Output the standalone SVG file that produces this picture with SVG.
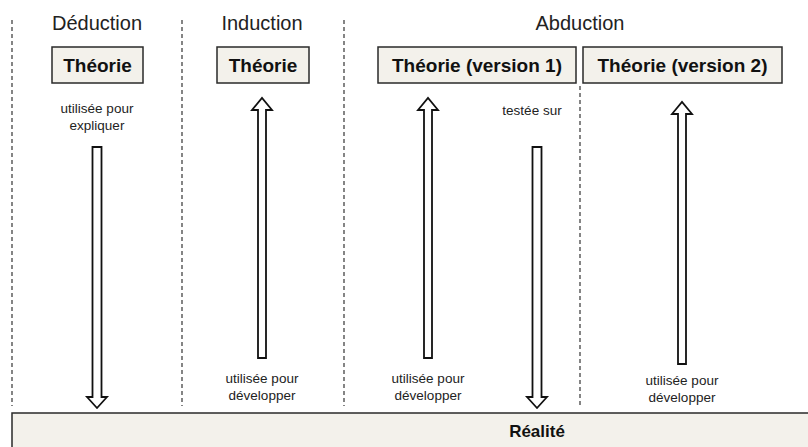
<svg xmlns="http://www.w3.org/2000/svg" width="808" height="447" viewBox="0 0 808 447">
<style>
.sep{stroke:#444;stroke-width:1.3;stroke-dasharray:4,3;fill:none}
.box{fill:#f3f1eb;stroke:#2a2a2a;stroke-width:1.5}
.title{font-family:"Liberation Sans",Arial,sans-serif;font-size:20px;fill:#222;text-anchor:middle}
.bold{font-family:"Liberation Sans",Arial,sans-serif;font-size:19px;font-weight:bold;fill:#111;text-anchor:middle}
.lbl{font-family:"Liberation Sans",Arial,sans-serif;font-size:13.5px;fill:#222;text-anchor:middle}
.arr{fill:#fff;stroke:#111;stroke-width:1.8;stroke-linejoin:miter}
</style>
<rect width="808" height="447" fill="#fff"/>
<g id="separators">
<line class="sep" x1="12" y1="20" x2="12" y2="406"/>
<line class="sep" x1="182" y1="20" x2="182" y2="406"/>
<line class="sep" x1="344" y1="20" x2="344" y2="406"/>
<line class="sep" x1="580" y1="86" x2="580" y2="406"/>
</g>
<g id="titles">
<text class="title" x="97" y="30">Déduction</text>
<text class="title" x="262" y="30">Induction</text>
<text class="title" x="580" y="30">Abduction</text>
</g>
<g id="theorie-deduction">
<rect class="box" x="52" y="47" width="91" height="36"/>
<text class="bold" x="97.5" y="72">Théorie</text>
</g>
<g id="theorie-induction">
<rect class="box" x="217" y="47" width="92" height="36"/>
<text class="bold" x="263" y="72">Théorie</text>
</g>
<g id="theorie-v1">
<rect class="box" x="378" y="47" width="198" height="36"/>
<text class="bold" x="477" y="72">Théorie (version 1)</text>
</g>
<g id="theorie-v2">
<rect class="box" x="583" y="47" width="199" height="36"/>
<text class="bold" x="682.5" y="72">Théorie (version 2)</text>
</g>
<g id="realite">
<rect class="box" x="12" y="413" width="810" height="40"/>
<text class="bold" x="537" y="437" style="font-size:17px">Réalité</text>
</g>
<g id="connectors">
<path class="arr" d="M92.5,147 H101.5 V397 H107 L97,408 L87,397 H92.5 Z"/>
<path class="arr" d="M258,358 H266 V110 H272 L262,98 L252,110 H258 Z"/>
<path class="arr" d="M424,358 H432 V110 H438 L428,98 L418,110 H424 Z"/>
<path class="arr" d="M532.5,147 H541.5 V397 H547 L537,408 L527,397 H532.5 Z"/>
<path class="arr" d="M678,364 H686 V114 H692 L682,102 L672,114 H678 Z"/>
</g>
<g id="labels">
<text class="lbl" x="97" y="113">utilisée pour</text>
<text class="lbl" x="97" y="130">expliquer</text>
<text class="lbl" x="262" y="383">utilisée pour</text>
<text class="lbl" x="262" y="400">développer</text>
<text class="lbl" x="428" y="383">utilisée pour</text>
<text class="lbl" x="428" y="400">développer</text>
<text class="lbl" x="532" y="115">testée sur</text>
<text class="lbl" x="682" y="385">utilisée pour</text>
<text class="lbl" x="682" y="402">développer</text>
</g>
</svg>
